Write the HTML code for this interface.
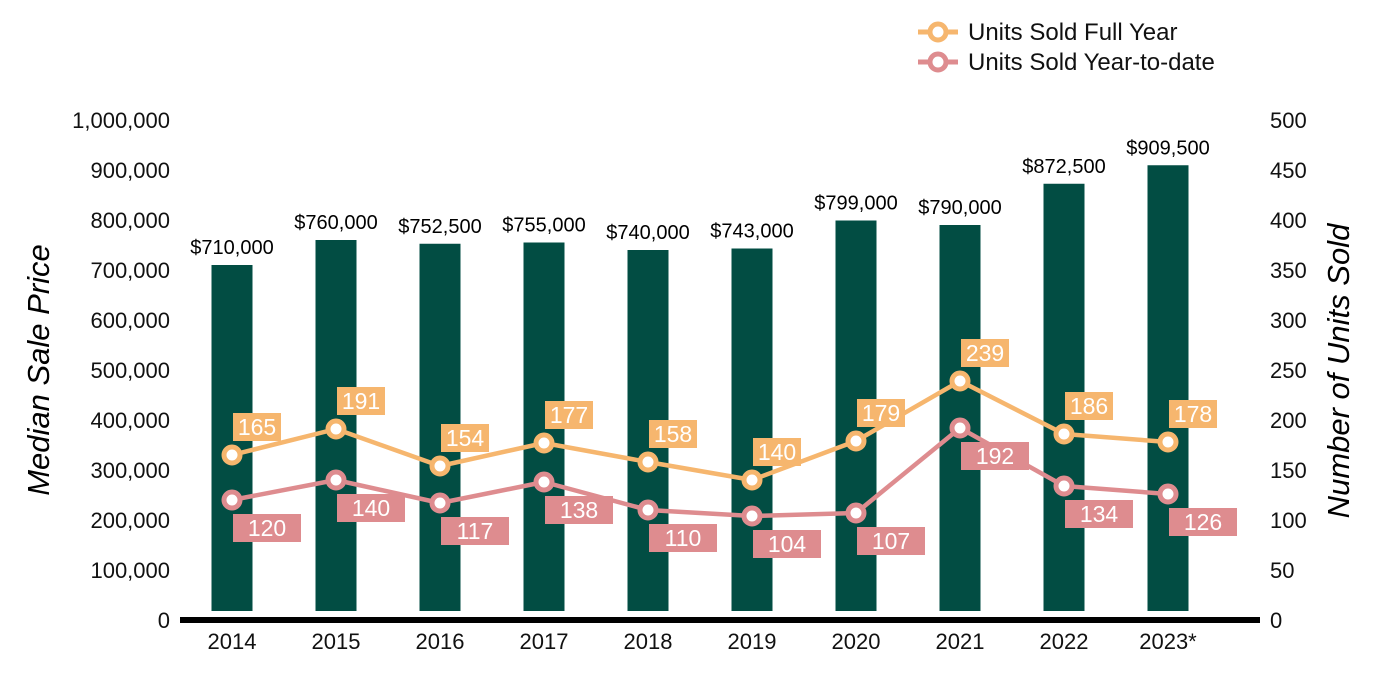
<!DOCTYPE html>
<html><head><meta charset="utf-8"><style>
body{margin:0;background:#fff;}
svg{display:block;font-family:"Liberation Sans",Arial,sans-serif;}
</style></head><body>
<svg id="chart" width="1400" height="700" viewBox="0 0 1400 700">
<g id="legend">
 <g>
  <line x1="918" y1="32" x2="958" y2="32" stroke="#F6B66E" stroke-width="5"/>
  <circle cx="938" cy="32" r="8" fill="#fff" stroke="#F6B66E" stroke-width="5"/>
  <text x="968" y="40" font-size="24" fill="#111">Units Sold Full Year</text>
 </g>
 <g>
  <line x1="918" y1="62" x2="958" y2="62" stroke="#DE8C8F" stroke-width="5"/>
  <circle cx="938" cy="62" r="8" fill="#fff" stroke="#DE8C8F" stroke-width="5"/>
  <text x="968" y="70" font-size="24" fill="#111">Units Sold Year-to-date</text>
 </g>
</g>
<text transform="translate(49,370) rotate(-90)" text-anchor="middle" font-size="31" font-style="italic" fill="#000">Median Sale Price</text>
<text transform="translate(1349,371) rotate(-90)" text-anchor="middle" font-size="31" font-style="italic" fill="#000">Number of Units Sold</text>
<g id="ticks"></g>
<g id="bars"></g>
<g id="lines"></g>
<rect x="180" y="617" width="1080" height="6" fill="#000"/>
</svg>
<script>
const categories=["2014","2015","2016","2017","2018","2019","2020","2021","2022","2023*"];
const prices=[710000,760000,752500,755000,740000,743000,799000,790000,872500,909500];
const fullYear=[165,191,154,177,158,140,179,239,186,178];
const ytd=[120,140,117,138,110,104,107,192,134,126];
const leftTicks=[0,100000,200000,300000,400000,500000,600000,700000,800000,900000,1000000];
const rightTicks=[0,50,100,150,200,250,300,350,400,450,500];
const NS="http://www.w3.org/2000/svg";
const xPos=i=>232+i*104;
const yL=v=>620-v/2000;
const yR=v=>620-v;
function mk(tag,attrs,parent,txt){const e=document.createElementNS(NS,tag);for(const k in attrs)e.setAttribute(k,attrs[k]);if(txt!==undefined)e.textContent=txt;parent.appendChild(e);return e;}
const fmt=v=>v.toLocaleString('en-US');
const ticks=document.getElementById('ticks');
leftTicks.forEach(v=>{const t=mk('text',{x:170,y:yL(v)+8,'text-anchor':'end','font-size':22,fill:'#111'},ticks,fmt(v));

});
rightTicks.forEach(v=>{const t=mk('text',{x:1270,y:yR(v)+8,'font-size':22,fill:'#111'},ticks,String(v));

});
categories.forEach((c,i)=>{const t=mk('text',{x:xPos(i),y:649,'text-anchor':'middle','font-size':22,fill:'#111'},ticks,c);

});
const bars=document.getElementById('bars');
prices.forEach((v,i)=>{const r=mk('rect',{x:xPos(i)-20.5,y:yL(v),width:41,height:611-yL(v),fill:'#024D43'},bars);


const t=mk('text',{x:xPos(i),y:yL(v)-11,'text-anchor':'middle','font-size':20,fill:'#000'},bars,'$'+fmt(v));

});
const lines=document.getElementById('lines');
function series(vals,color,name,above){
 const p=mk('polyline',{points:vals.map((v,i)=>xPos(i)+','+yR(v)).join(' '),fill:'none',stroke:color,'stroke-width':4.5,'stroke-linejoin':'round'},lines);
 
 
 vals.forEach((v,i)=>{const c=mk('circle',{cx:xPos(i),cy:yR(v),r:8,fill:'#fff',stroke:color,'stroke-width':5},lines);
  
  
  const w=above?48:68, bx=xPos(i)+1, by=above?yR(v)-42:yR(v)+14;
  const r=mk('rect',{x:bx,y:by,width:w,height:28,fill:color},lines);
  
  
  const t=mk('text',{x:bx+w/2,y:by+22,'text-anchor':'middle','font-size':23,fill:'#fff'},lines,String(v));
  
  });
}
series(ytd,'#DE8C8F','ytd',false);
series(fullYear,'#F6B66E','full-year',true);
</script>
</body></html>
